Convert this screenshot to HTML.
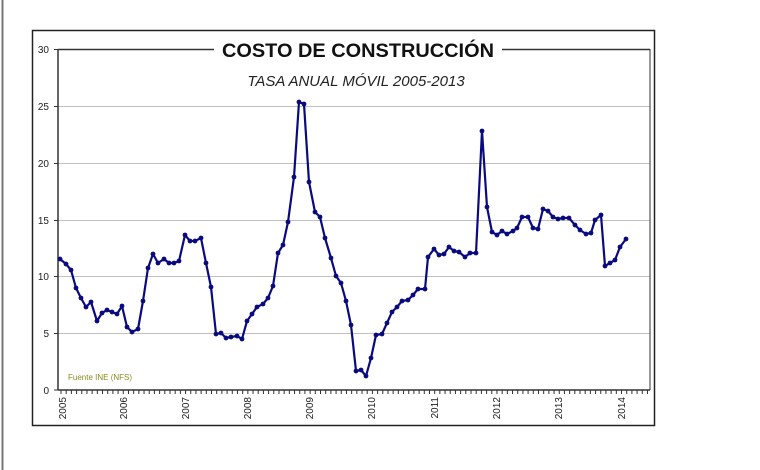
<!DOCTYPE html>
<html><head><meta charset="utf-8"><style>
body{margin:0;background:#fff;}
</style></head><body>
<svg width="760" height="470" xmlns="http://www.w3.org/2000/svg" style="display:block">
<defs>
<marker id="dot" viewBox="0 0 6 6" refX="3" refY="3" markerWidth="6" markerHeight="6" markerUnits="userSpaceOnUse">
<circle cx="3" cy="3" r="2.4" fill="#0a0a80"/>
</marker>
</defs>
<rect x="0" y="0" width="760" height="470" fill="#fff"/>
<line x1="2.5" y1="0" x2="2.5" y2="470" stroke="#777" stroke-width="2"/>
<rect x="32.5" y="30.5" width="622" height="395" fill="#fff" stroke="#222" stroke-width="1.5"/>
<g stroke="#c0c0c0" stroke-width="1">
<line x1="58" y1="106.5" x2="650" y2="106.5"/>
<line x1="58" y1="163.5" x2="650" y2="163.5"/>
<line x1="58" y1="220.5" x2="650" y2="220.5"/>
<line x1="58" y1="276.5" x2="650" y2="276.5"/>
<line x1="58" y1="333.5" x2="650" y2="333.5"/>
</g>
<line x1="58" y1="49.5" x2="650" y2="49.5" stroke="#333" stroke-width="1.5"/>
<line x1="650" y1="49" x2="650" y2="390" stroke="#333" stroke-width="1"/>
<line x1="58" y1="49" x2="58" y2="390" stroke="#333" stroke-width="1.5"/>
<line x1="58" y1="390" x2="650" y2="390" stroke="#333" stroke-width="1.5"/>
<line x1="60.5" y1="392" x2="650" y2="392" stroke="#333" stroke-width="4" stroke-dasharray="1 4.19"/>
<g stroke="#333" stroke-width="1">
<line x1="54" y1="49.5" x2="58" y2="49.5"/><line x1="54" y1="106.5" x2="58" y2="106.5"/>
<line x1="54" y1="163.5" x2="58" y2="163.5"/><line x1="54" y1="220.5" x2="58" y2="220.5"/>
<line x1="54" y1="276.5" x2="58" y2="276.5"/><line x1="54" y1="333.5" x2="58" y2="333.5"/>
<line x1="54" y1="390" x2="58" y2="390"/>
</g>
<g font-family="Liberation Sans, sans-serif" font-size="10" fill="#222" text-anchor="end">
<text x="49" y="53">30</text><text x="49" y="110">25</text><text x="49" y="167">20</text>
<text x="49" y="224">15</text><text x="49" y="280">10</text><text x="49" y="337">5</text><text x="49" y="394">0</text>
</g>
<g font-family="Liberation Sans, sans-serif" font-size="10" fill="#222" text-anchor="end">
<text transform="translate(66,397) rotate(-90)">2005</text>
<text transform="translate(127,397) rotate(-90)">2006</text>
<text transform="translate(189,397) rotate(-90)">2007</text>
<text transform="translate(251,397) rotate(-90)">2008</text>
<text transform="translate(313,397) rotate(-90)">2009</text>
<text transform="translate(375,397) rotate(-90)">2010</text>
<text transform="translate(438,397) rotate(-90)">2011</text>
<text transform="translate(500,397) rotate(-90)">2012</text>
<text transform="translate(562,397) rotate(-90)">2013</text>
<text transform="translate(625,397) rotate(-90)">2014</text>
</g>
<rect x="214" y="38" width="288" height="24" fill="#fff"/>
<text x="358" y="57" text-anchor="middle" font-family="Liberation Sans, sans-serif" font-weight="bold" font-size="19" fill="#111" textLength="272" lengthAdjust="spacingAndGlyphs">COSTO DE CONSTRUCCIÓN</text>
<text x="356" y="86" text-anchor="middle" font-family="Liberation Sans, sans-serif" font-style="italic" font-size="15" fill="#222">TASA ANUAL MÓVIL 2005-2013</text>
<text x="68" y="380" font-family="Liberation Sans, sans-serif" font-size="8" fill="#8a8a20">Fuente INE (NFS)</text>
<polyline fill="none" stroke="#0a0a80" stroke-width="2.2" stroke-linejoin="round" marker-start="url(#dot)" marker-mid="url(#dot)" marker-end="url(#dot)" points="60,259 66,264 71,270 76,288 81,298 86,307 91,302 97,321 102,313 107,310 112,312 117,314 122,306 127,327 132,332 138,329 143,301 148,268 153,254 158,263 164,259 169,263 174,263 179,261 185,235 190,241 195,241 201,238 206,263 211,287 216,334 221,333 226,338 231,337 237,336 242,339 247,321 252,314 257,307 263,304 268,298 273,286 278,253 283,245 288,222 294,177 299,102 304,104 309,182 315,212 320,217 325,238 331,258 336,276 341,283 346,301 351,325 356,371 361,370 366,376 371,358 376,335 382,334 387,323 392,312 397,307 402,301 408,300 413,295 418,289 425,289 428,257 434,249 439,255 444,254 449,247 454,251 459,252 465,257 470,253 476,253 482,131 487,207 492,232 497,235 502,231 507,234 513,231 517,228 522,217 528,217 533,228 538,229 543,209 548,211 553,217 558,219 563,218 569,218 575,225 580,230 586,234 591,233 595,220 601,215 605,266 610,263 615,260 620,247 626,239"/>
</svg>
</body></html>
